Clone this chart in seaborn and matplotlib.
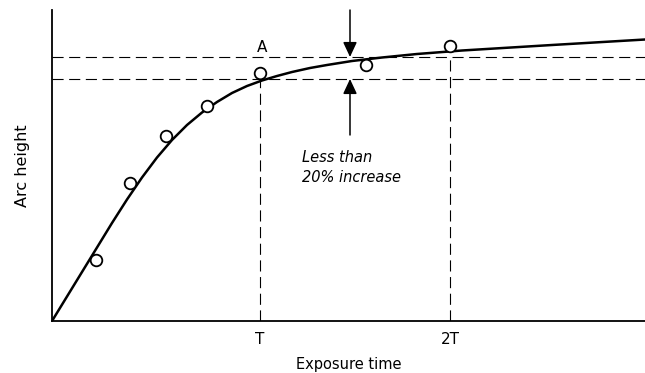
import matplotlib
matplotlib.use("Agg")
import matplotlib.pyplot as plt
import seaborn as sns

# values (x: exposure, y: arc height, arbitrary units)
curve_x = [0, 60, 75, 90, 105, 120, 135, 150, 165, 180, 195, 210, 225, 240, 258, 275,
           300, 330, 365, 410, 500, 593]
curve_y = [0, 98, 121.5, 143.5, 163.5, 181, 196, 208.5, 219, 228, 235, 240.5, 245, 249,
           253, 256, 260, 263.5, 267, 270.5, 276, 281.5]

point_x = [44, 78, 114, 155, 208, 314, 398]
point_y = [61, 138, 185, 215, 248, 256, 275]

level_low = 242     # arc height at A (time T)
level_high = 264    # arc height at 2T
t_pos = 208
t2_pos = 398
tick_pos = [t_pos, t2_pos]
tick_labels = ["T", "2T"]
arrow_x = 298

sns.set_style("white")
plt.rcParams["font.family"] = ["DejaVu Sans"]
plt.rcParams["text.color"] = "black"
plt.rcParams["axes.labelcolor"] = "black"
plt.rcParams["xtick.color"] = "black"

fig = plt.figure(figsize=(6.45, 3.73), dpi=100)
ax = fig.add_axes([52 / 645, 52 / 373, 593 / 645, 311 / 373])

sns.lineplot(x=curve_x, y=curve_y, color="black", linewidth=1.8, ax=ax, sort=False)
sns.scatterplot(x=point_x, y=point_y, marker="o", s=70, facecolor="white",
                edgecolor="black", linewidth=1.3, ax=ax, zorder=5)

dash = dict(color="black", linewidth=0.8, linestyle=(0, (10, 5)))
ax.axhline(level_low, **dash)
ax.axhline(level_high, **dash)
ax.plot([t_pos, t_pos], [0, level_low], **dash)
ax.plot([t2_pos, t2_pos], [0, level_high], **dash)

arrow = dict(arrowstyle="-|>,head_length=0.9,head_width=0.42", color="black", lw=1.1,
             shrinkA=0, shrinkB=0)
ax.annotate("", xy=(arrow_x, level_high), xytext=(arrow_x, 311), arrowprops=arrow)
ax.annotate("", xy=(arrow_x, level_low), xytext=(arrow_x, 186), arrowprops=arrow)

ax.text(t_pos + 2, 274, "A", fontsize=11, ha="center", va="center")
ax.text(250, 163, "Less than", fontsize=10.5, style="italic", ha="left", va="center")
ax.text(250, 143, "20% increase", fontsize=10.5, style="italic", ha="left", va="center")

ax.set_xlim(0, 593)
ax.set_ylim(0, 311)
ax.set_xticks(tick_pos)
ax.set_xticklabels(tick_labels, fontsize=11)
ax.set_yticks([])
ax.tick_params(axis="x", length=0, pad=8)
ax.set_xlabel("Exposure time", fontsize=10.5, labelpad=7)
ax.set_ylabel("Arc height", fontsize=11.5, labelpad=16)

for side in ("top", "right"):
    ax.spines[side].set_visible(False)
for side in ("left", "bottom"):
    ax.spines[side].set_color("black")
    ax.spines[side].set_linewidth(1.3)

fig.savefig("out.png", dpi=100, facecolor="white")
